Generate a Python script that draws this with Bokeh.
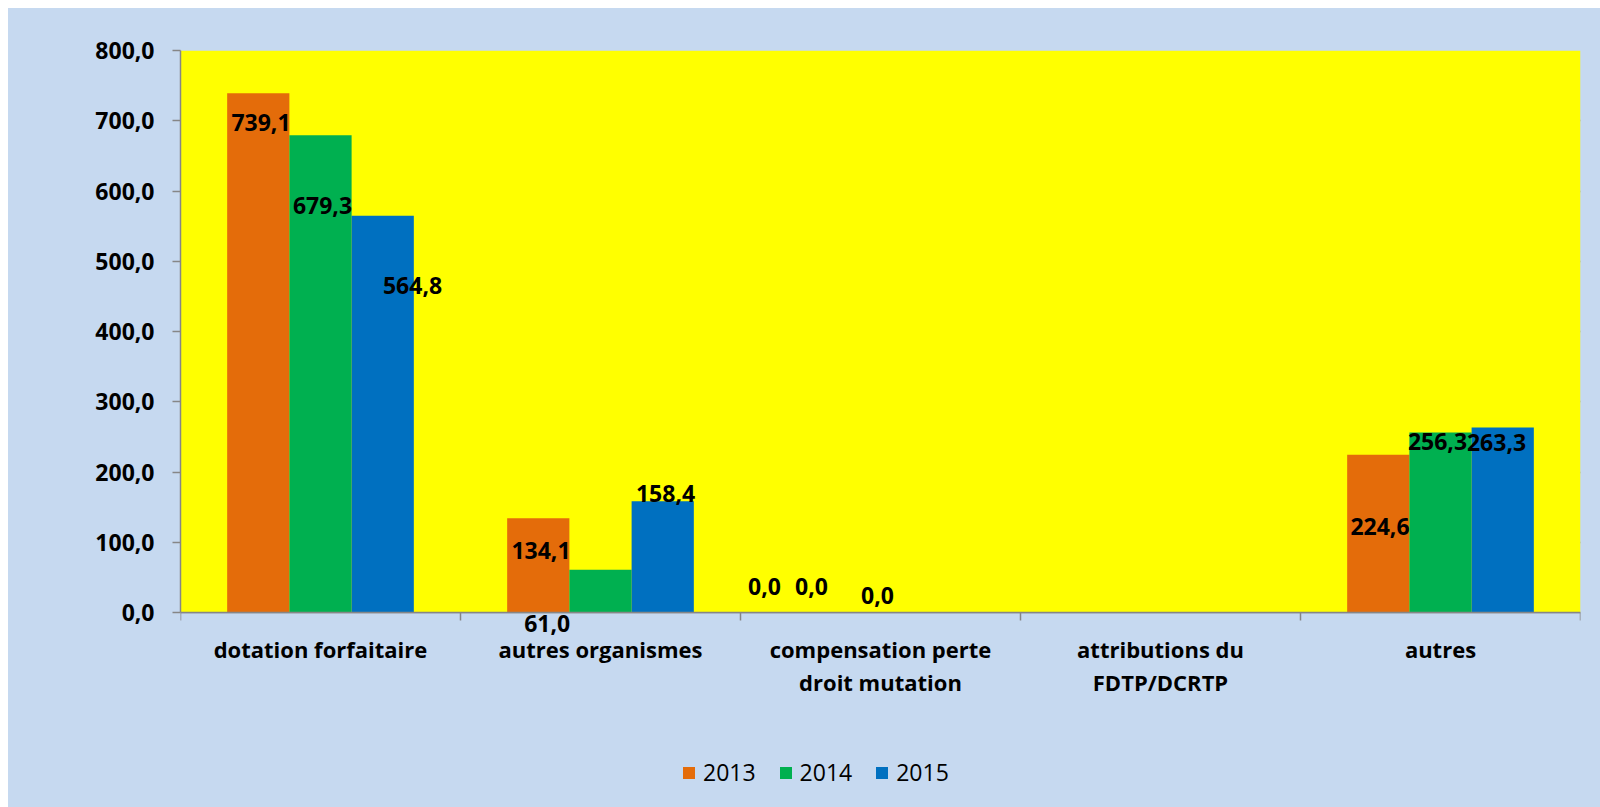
from bokeh.plotting import figure
from bokeh.models import (ColumnDataSource, Range1d, FixedTicker, CustomJSTickFormatter,
                          LabelSet, Legend, LegendItem, BoxAnnotation)
from bokeh.core.properties import value
from bokeh.embed import file_html
from bokeh.resources import INLINE

# ---------------- data ----------------
categories = ["dotation forfaitaire", "autres organismes", "compensation perte\ndroit mutation",
              "attributions du\nFDTP/DCRTP", "autres"]
years = ["2013", "2014", "2015"]
v2013 = [739.1, 134.1, 0.0, None, 224.6]
v2014 = [679.3, 61.0, 0.0, None, 256.3]
v2015 = [564.8, 158.4, 0.0, None, 263.3]
y_ticks = [0, 100, 200, 300, 400, 500, 600, 700, 800]
y_max = 800

# label placement (screen px relative to bar centre / bar top; dy positive = downward)
dx2013 = [2.7, 2.7, -53.8, 0, 1.7]
dy2013 = [29.2, 32.2, -26, 0, 71.8]
dx2014 = [2.0, -53.3, -69.0, 0, -3.0]
dy2014 = [70.7, 53.9, -26, 0, 9.5]
dx2015 = [29.8, 2.8, -65.2, 0, -6.2]
dy2015 = [69.8, -7.7, -17, 0, 14.5]

colors = ["#E46C0A", "#00B050", "#0070C0"]
BG = "#C6D9F0"
GRAY = "#868686"
FONT = "Open Sans"

# layout (px)
W, H = 1592, 799
top_b, left_b, right_b, bottom_b = 42, 172, 20, 15
value_area_px = 562          # height of the 0..800 value area
frame_h = H - top_b - bottom_b
y_start = y_max - (frame_h / value_area_px) * y_max

p = figure(width=W, height=H, output_backend="svg", toolbar_location=None,
           x_range=Range1d(0, len(categories)), y_range=Range1d(y_start, y_max),
           background_fill_color=None, border_fill_color=None,
           min_border_left=left_b, min_border_top=top_b, min_border_right=right_b,
           min_border_bottom=bottom_b)
p.margin = (8, 0, 0, 8)
p.styles = {"background-color": BG}
p.outline_line_color = None

# yellow plot area
p.add_layout(BoxAnnotation(bottom=0, top=y_max, fill_color="#FFFF00", fill_alpha=1,
                           line_color=None, level="underlay"))

bar_w = 1.0 / 4.5
offsets = [-bar_w, 0.0, bar_w]
series = [v2013, v2014, v2015]
dxs = [dx2013, dx2014, dx2015]
dys = [dy2013, dy2014, dy2015]

items = []
for s, vals, col, off, dx, dy in zip(years, series, colors, offsets, dxs, dys):
    xs, ys, txt, xo, yo = [], [], [], [], []
    for i, v in enumerate(vals):
        xs.append(i + 0.5 + off)
        if v is None:
            ys.append(float("nan"))
            txt.append("")
        else:
            ys.append(v)
            txt.append(f"{v:.1f}".replace(".", ","))
        xo.append(dx[i])
        yo.append(-dy[i])
    src = ColumnDataSource(dict(x=xs, top=ys, text=txt, xo=xo, yo=yo))
    r = p.vbar(x="x", top="top", bottom=0, width=bar_w, source=src, fill_color=col,
               line_color=None)
    items.append(LegendItem(label=s, renderers=[r]))
    lab = LabelSet(x="x", y="top", text="text", source=src, x_offset="xo", y_offset="yo",
                   text_align="center", text_baseline="middle", text_font=value(FONT),
                   text_font_style="bold", text_font_size="23px", text_color="black")
    p.add_layout(lab)

# y axis
p.yaxis.ticker = FixedTicker(ticks=y_ticks)
p.yaxis.bounds = (0, y_max)
p.yaxis.formatter = CustomJSTickFormatter(code="return tick.toFixed(1).replace('.', ',');")
p.yaxis.major_label_text_font = FONT
p.yaxis.major_label_text_font_style = "bold"
p.yaxis.major_label_text_font_size = "23px"
p.yaxis.major_label_text_color = "black"
p.yaxis.axis_line_color = GRAY
p.yaxis.axis_line_width = 1.5
p.yaxis.major_tick_line_color = GRAY
p.yaxis.major_tick_line_width = 1.5
p.yaxis.major_tick_out = 8
p.yaxis.major_tick_in = 0
p.yaxis.minor_tick_line_color = None
p.yaxis.major_label_standoff = 18

p.ygrid.ticker = FixedTicker(ticks=y_ticks)
p.ygrid.grid_line_color = GRAY
p.ygrid.grid_line_width = 1.5
p.xgrid.grid_line_color = None

# x axis at value 0: ticks at category boundaries, labels drawn separately
centers = [i + 0.5 for i in range(len(categories))]
bounds = list(range(len(categories) + 1))
p.xaxis.fixed_location = 0
p.xaxis.ticker = FixedTicker(ticks=centers, minor_ticks=bounds)
p.xaxis.major_label_overrides = {c: "" for c in centers}
p.xaxis.major_label_text_font_size = "1px"
p.xaxis.major_label_standoff = 0
p.xaxis.major_tick_line_color = None
p.xaxis.major_tick_out = 0
p.xaxis.major_tick_in = 0
p.xaxis.minor_tick_line_color = GRAY
p.xaxis.minor_tick_line_width = 1.5
p.xaxis.minor_tick_out = 8
p.xaxis.minor_tick_in = 0
p.xaxis.axis_line_color = GRAY
p.xaxis.axis_line_width = 1.5

# category labels, one LabelSet per text line so each line is centred
lines = [c.split("\n") for c in categories]
n_lines = max(len(l) for l in lines)
line_gap = 33.7
for k in range(n_lines):
    txt = [l[k] if k < len(l) else "" for l in lines]
    cat_src = ColumnDataSource(dict(x=centers, y=[0] * len(centers), text=txt))
    p.add_layout(LabelSet(x="x", y="y", text="text", source=cat_src,
                          y_offset=-36 - k * line_gap,
                          text_align="center", text_baseline="middle", text_font=value(FONT),
                          text_font_style="bold", text_font_size="22px", text_color="black"))

legend = Legend(items=items, location=(501, 4), orientation="horizontal",
                glyph_width=15, glyph_height=15, label_standoff=7, spacing=22,
                padding=0, margin=0, border_line_color=None, background_fill_alpha=0,
                label_text_font=FONT, label_text_font_size="23px", label_text_color="black")
p.add_layout(legend)

open("out.html", "w").write(file_html(p, INLINE))
